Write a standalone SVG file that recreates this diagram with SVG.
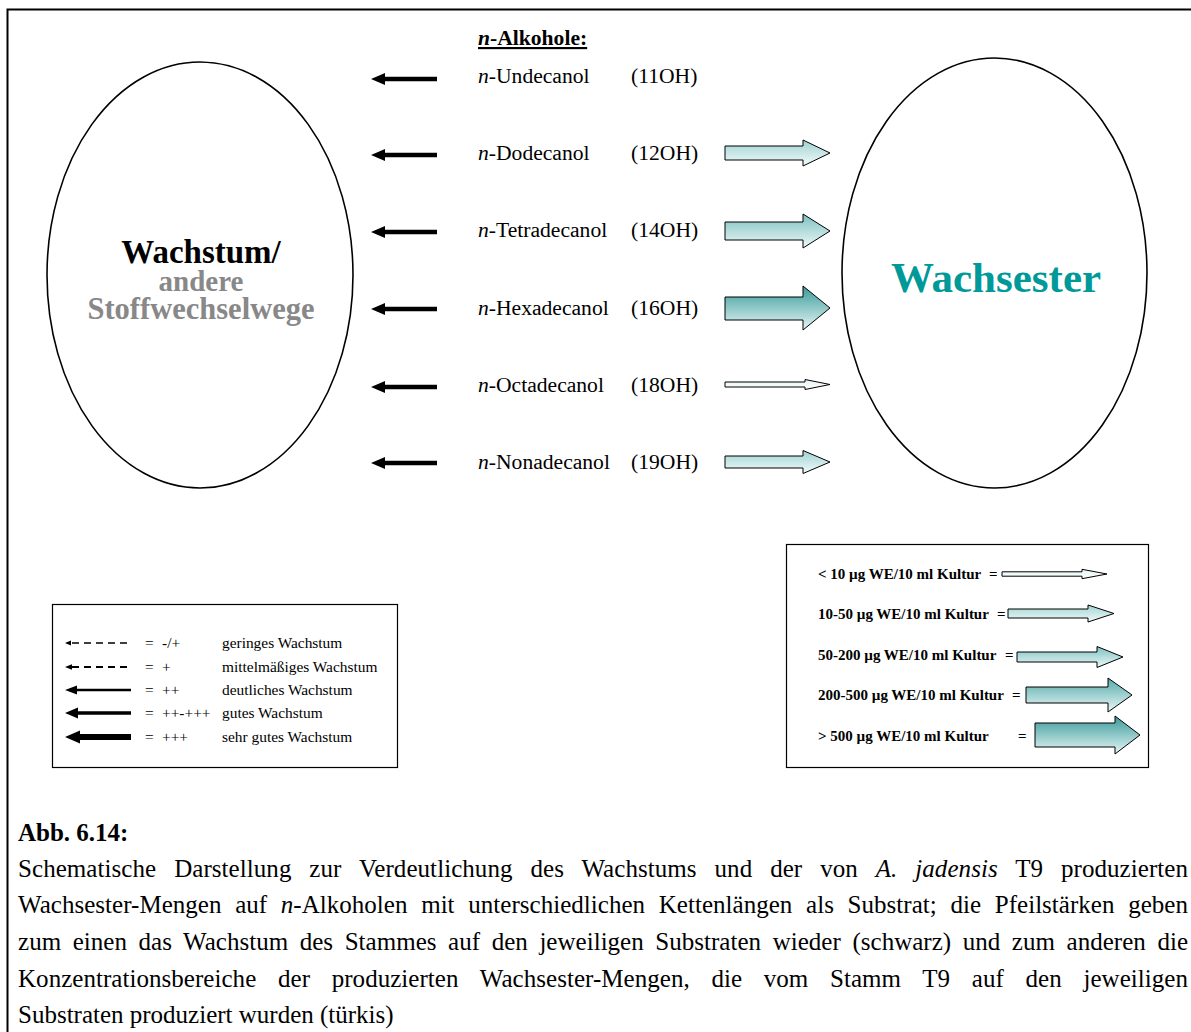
<svg xmlns="http://www.w3.org/2000/svg" width="1191" height="1032" viewBox="0 0 1191 1032">
<style>
.t{font-family:"Liberation Serif","Times New Roman",serif;fill:#000}
.lab{font-size:21.6px}
.i{font-style:italic}
.b{font-weight:bold}
.cap{font-size:25px}
.lg{font-size:15.4px}
.rg{font-size:15px;font-weight:bold}
.ell{fill:none;stroke:#000;stroke-width:1.6}
.box{fill:#fff;stroke:#000;stroke-width:1.2}
.blk{fill:#000}
.ta{stroke:#000;stroke-width:1}
</style>
<defs>
<linearGradient id="g1" x1="0" y1="0" x2="0" y2="1"><stop offset="0" stop-color="#e4f3f3"/><stop offset="1" stop-color="#ffffff"/></linearGradient>
<linearGradient id="g2" x1="0" y1="0" x2="0" y2="1"><stop offset="0" stop-color="#9fd2d2"/><stop offset="1" stop-color="#f2fbfb"/></linearGradient>
<linearGradient id="g3" x1="0" y1="0" x2="0" y2="1"><stop offset="0" stop-color="#7cc0c0"/><stop offset="1" stop-color="#eef9f9"/></linearGradient>
<linearGradient id="g4" x1="0" y1="0" x2="0" y2="1"><stop offset="0" stop-color="#56a9a9"/><stop offset="1" stop-color="#eaf8f8"/></linearGradient>
<linearGradient id="g5" x1="0" y1="0" x2="0" y2="1"><stop offset="0" stop-color="#3a9a9a"/><stop offset="1" stop-color="#e6f6f6"/></linearGradient>
</defs>
<rect x="0" y="0" width="1191" height="1032" fill="#fff"/>
<path d="M7.5,1032 V9.5 H1191" fill="none" stroke="#000" stroke-width="2"/>

<g id="node-wachstum">
<ellipse class="ell" cx="200" cy="275" rx="153" ry="213"/>
<text class="t b" x="201" y="263" font-size="33" text-anchor="middle">Wachstum/</text>
<text class="t b" x="201" y="291" font-size="29" text-anchor="middle" style="fill:#888">andere</text>
<text class="t b" x="201" y="319" font-size="30.5" text-anchor="middle" style="fill:#888">Stoffwechselwege</text>
</g>

<g id="node-wachsester">
<ellipse class="ell" cx="994.5" cy="273" rx="152.5" ry="215"/>
<text class="t b" x="996" y="292" font-size="43" text-anchor="middle" style="fill:#009999">Wachsester</text>
</g>

<g id="node-alkohole">
<text class="t lab b" x="478" y="45" text-decoration="underline"><tspan class="i">n</tspan>-Alkohole:</text>
<text class="t lab" x="478" y="83"><tspan class="i">n</tspan>-Undecanol</text>
<text class="t lab" x="631" y="83">(11OH)</text>
<text class="t lab" x="478" y="160"><tspan class="i">n</tspan>-Dodecanol</text>
<text class="t lab" x="631" y="160">(12OH)</text>
<text class="t lab" x="478" y="237"><tspan class="i">n</tspan>-Tetradecanol</text>
<text class="t lab" x="631" y="237">(14OH)</text>
<text class="t lab" x="478" y="315"><tspan class="i">n</tspan>-Hexadecanol</text>
<text class="t lab" x="631" y="315">(16OH)</text>
<text class="t lab" x="478" y="392"><tspan class="i">n</tspan>-Octadecanol</text>
<text class="t lab" x="631" y="392">(18OH)</text>
<text class="t lab" x="478" y="469"><tspan class="i">n</tspan>-Nonadecanol</text>
<text class="t lab" x="631" y="469">(19OH)</text>
</g>

<g id="connectors">
<polygon class="blk" points="371,79 385,73 385,76.7 437,76.7 437,81.3 385,81.3 385,85"/>
<polygon class="blk" points="371,155 385,149 385,152.7 437,152.7 437,157.3 385,157.3 385,161"/>
<polygon class="blk" points="371,232 385,226 385,229.7 437,229.7 437,234.3 385,234.3 385,238"/>
<polygon class="blk" points="371,309 385,303 385,306.7 437,306.7 437,311.3 385,311.3 385,315"/>
<polygon class="blk" points="371,387 385,381 385,384.7 437,384.7 437,389.3 385,389.3 385,393"/>
<polygon class="blk" points="371,463 385,457 385,460.7 437,460.7 437,465.3 385,465.3 385,469"/>

<polygon class="ta" fill="url(#g2)" points="725,146 803,146 803,140 830,153 803,166 803,160 725,160"/>
<polygon class="ta" fill="url(#g3)" points="725,222 803,222 803,214 830,231 803,248 803,240 725,240"/>
<polygon class="ta" fill="url(#g5)" points="725,297 803,297 803,286 830,308 803,330 803,320 725,320"/>
<polygon class="ta" fill="url(#g1)" points="725,382 805,382 805,379.5 830,384.5 805,389.5 805,387 725,387"/>
<polygon class="ta" fill="url(#g2)" points="725,456 803,456 803,450.5 830,462 803,473.5 803,468 725,468"/>
</g>

<g id="legend-growth">
<rect class="box" x="52.5" y="604.5" width="345" height="163"/>
<polygon class="blk" points="65,643 71,640.6 71,645.4"/>
<line x1="72" y1="643" x2="131" y2="643" stroke="#000" stroke-width="1.4" stroke-dasharray="7,5"/>
<polygon class="blk" points="65,667 72,664.2 72,669.8"/>
<line x1="72" y1="667" x2="131" y2="667" stroke="#000" stroke-width="1.8" stroke-dasharray="7,5"/>
<polygon class="blk" points="65,690 77,685.5 77,688.8 131,688.8 131,691.2 77,691.2 77,694.5"/>
<polygon class="blk" points="65,713 78,707.5 78,711.2 131,711.2 131,714.8 78,714.8 78,718.5"/>
<polygon class="blk" points="65,737 80,730.5 80,734 131,734 131,740 80,740 80,743.5"/>
<text class="t lg" x="145" y="648">=</text><text class="t lg" x="162" y="648">-/+</text>
<text class="t lg" x="145" y="672">=</text><text class="t lg" x="162" y="672">+</text>
<text class="t lg" x="145" y="695">=</text><text class="t lg" x="162" y="695">++</text>
<text class="t lg" x="145" y="718">=</text><text class="t lg" x="162" y="718">++-+++</text>
<text class="t lg" x="145" y="742">=</text><text class="t lg" x="162" y="742">+++</text>
<text class="t lg" x="222" y="648">geringes Wachstum</text>
<text class="t lg" x="222" y="672">mittelmäßiges Wachstum</text>
<text class="t lg" x="222" y="695">deutliches Wachstum</text>
<text class="t lg" x="222" y="718">gutes Wachstum</text>
<text class="t lg" x="222" y="742">sehr gutes Wachstum</text>
</g>

<g id="legend-wachsester">
<rect class="box" x="786.5" y="544.5" width="362" height="223"/>
<text class="t rg" x="818" y="579">&lt; 10 µg WE/10 ml Kultur</text><text class="t rg" x="989" y="579">=</text>
<text class="t rg" x="818" y="619">10-50 µg WE/10 ml Kultur</text><text class="t rg" x="997" y="619">=</text>
<text class="t rg" x="818" y="660">50-200 µg WE/10 ml Kultur</text><text class="t rg" x="1005" y="660">=</text>
<text class="t rg" x="818" y="700">200-500 µg WE/10 ml Kultur</text><text class="t rg" x="1012" y="700">=</text>
<text class="t rg" x="818" y="741">&gt; 500 µg WE/10 ml Kultur</text><text class="t rg" x="1018" y="741">=</text>
<polygon class="ta" fill="url(#g1)" points="1002,571.8 1082,571.8 1082,569.3 1107,574 1082,578.7 1082,576.2 1002,576.2"/>
<polygon class="ta" fill="url(#g2)" points="1008,609 1088,609 1088,605 1114,613.5 1088,622 1088,618 1008,618"/>
<polygon class="ta" fill="url(#g3)" points="1017,652 1097,652 1097,646.5 1123,657 1097,667.5 1097,662 1017,662"/>
<polygon class="ta" fill="url(#g4)" points="1026,687 1108,687 1108,678 1132,695 1108,712 1108,703 1026,703"/>
<polygon class="ta" fill="url(#g5)" points="1035,723 1115,723 1115,716 1140,735 1115,754 1115,747 1035,747"/>
</g>

<g id="caption">
<text class="t cap b" x="18" y="841">Abb. 6.14:</text>
<text class="t cap" x="18" y="877" word-spacing="11.6" textLength="1170" lengthAdjust="spacing">Schematische Darstellung zur Verdeutlichung des Wachstums und der von <tspan class="i">A. jadensis</tspan> T9 produzierten</text>
<text class="t cap" x="18" y="913" word-spacing="7.4" textLength="1170" lengthAdjust="spacing">Wachsester-Mengen auf <tspan class="i">n</tspan>-Alkoholen mit unterschiedlichen Kettenlängen als Substrat; die Pfeilstärken geben</text>
<text class="t cap" x="18" y="950" word-spacing="5.3" textLength="1170" lengthAdjust="spacing">zum einen das Wachstum des Stammes auf den jeweiligen Substraten wieder (schwarz) und zum anderen die</text>
<text class="t cap" x="18" y="987" word-spacing="15.4" textLength="1170" lengthAdjust="spacing">Konzentrationsbereiche der produzierten Wachsester-Mengen, die vom Stamm T9 auf den jeweiligen</text>
<text class="t cap" x="18" y="1023">Substraten produziert wurden (türkis)</text>
</g>
</svg>
